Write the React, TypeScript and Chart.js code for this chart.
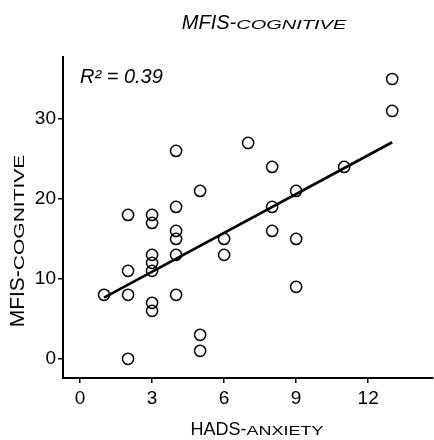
import React, { useEffect, useRef } from "react";
import { Chart, registerables } from "chart.js";

Chart.register(...registerables);

// HADS anxiety score (x) and MFIS cognitive score (y) for each participant
const anxietyScores = [
  1, 2, 2, 2, 2, 3, 3, 3, 3, 3, 3, 3, 4, 4, 4, 4, 4, 4, 5, 5, 5, 6, 6, 7, 8, 8, 8, 9, 9, 9, 11, 13, 13,
];
const cognitiveScores = [
  8, 18, 11, 8, 0, 18, 17, 13, 12, 11, 7, 6, 26, 19, 16, 15, 13, 8, 21, 3, 1, 15, 13, 27, 24, 19, 16, 21, 15, 9, 24, 35, 31,
];

// Fitted regression line end points
const fitX = [1, 13];
const fitY = [7.66, 27.09];
const rSquaredLabel = "R² = 0.39";

const xTicks = [0, 3, 6, 9, 12];
const yTicks = [0, 10, 20, 30];

const FONT = '"Liberation Sans", Arial, Helvetica, sans-serif';

type Part = { text: string; small?: boolean };

const titleParts: Part[] = [{ text: "MFIS-" }, { text: "COGNITIVE", small: true }];
const xTitleParts: Part[] = [{ text: "HADS-" }, { text: "ANXIETY", small: true }];
const yTitleParts: Part[] = [{ text: "MFIS-" }, { text: "COGNITIVE", small: true }];

// Draws text centred on (x, y) baseline; small-caps parts are squashed vertically
function drawCapsLabel(
  ctx: CanvasRenderingContext2D,
  parts: Part[],
  x: number,
  y: number,
  size: number,
  italic: boolean,
  k: number,
  angle: number
) {
  ctx.save();
  ctx.font = `${italic ? "italic " : ""}${size}px ${FONT}`;
  ctx.fillStyle = "#000";
  ctx.textBaseline = "alphabetic";
  ctx.textAlign = "left";
  ctx.translate(x, y);
  if (angle) ctx.rotate(angle);
  const widths = parts.map((p) => ctx.measureText(p.text).width);
  const total = widths.reduce((a, b) => a + b, 0);
  let cx = -total / 2;
  parts.forEach((p, i) => {
    ctx.save();
    ctx.translate(cx, 0);
    if (p.small) ctx.scale(1, k);
    ctx.fillText(p.text, 0, 0);
    ctx.restore();
    cx += widths[i];
  });
  ctx.restore();
}

const labelPlugin = {
  id: "labels",
  afterDraw(chart: Chart) {
    const ctx = chart.ctx;
    drawCapsLabel(ctx, titleParts, 264, 29, 20, true, 0.68, 0);
    drawCapsLabel(ctx, xTitleParts, 257, 435, 18, false, 0.75, 0);
    drawCapsLabel(ctx, yTitleParts, 24, 241, 21, false, 0.72, -Math.PI / 2);
    ctx.save();
    ctx.font = `italic 20px ${FONT}`;
    ctx.fillStyle = "#000";
    ctx.textAlign = "left";
    ctx.textBaseline = "alphabetic";
    ctx.fillText(rSquaredLabel, 80, 83);
    ctx.restore();
  },
};

export default function App() {
  const canvasRef = useRef<HTMLCanvasElement | null>(null);

  useEffect(() => {
    if (!canvasRef.current) return;
    const points = anxietyScores.map((x, i) => ({ x, y: cognitiveScores[i] }));
    const fit = fitX.map((x, i) => ({ x, y: fitY[i] }));

    const chart = new Chart(canvasRef.current, {
      type: "scatter",
      data: {
        datasets: [
          {
            type: "line",
            data: fit,
            borderColor: "#000",
            borderWidth: 2.7,
            pointRadius: 0,
            fill: false,
            order: 1,
          },
          {
            data: points,
            pointRadius: 5.6,
            pointBorderWidth: 1.5,
            pointBorderColor: "#000",
            pointBackgroundColor: "rgba(0,0,0,0)",
            order: 0,
          },
        ],
      },
      options: {
        responsive: false,
        animation: false,
        layout: { autoPadding: false, padding: { top: 57, right: 1, left: 0, bottom: 0 } },
        plugins: {
          legend: { display: false },
          tooltip: { enabled: false },
          title: { display: false },
        },
        scales: {
          x: {
            type: "linear",
            min: -0.71,
            max: 14.7,
            afterBuildTicks: (scale: any) => {
              scale.ticks = xTicks.map((v) => ({ value: v }));
            },
            afterFit: (scale: any) => {
              scale.height = 62;
              scale.paddingLeft = 0;
              scale.paddingRight = 0;
            },
            ticks: {
              color: "#000",
              font: { family: FONT, size: 19 },
              padding: 4,
              maxRotation: 0,
            },
            grid: {
              display: true,
              drawOnChartArea: false,
              drawTicks: true,
              tickLength: 5,
              color: "#000",
              lineWidth: 1.5,
            },
            border: { display: true, color: "#000", width: 2 },
          },
          y: {
            type: "linear",
            min: -2.4,
            max: 37.75,
            afterBuildTicks: (scale: any) => {
              scale.ticks = yTicks.map((v) => ({ value: v }));
            },
            afterFit: (scale: any) => {
              scale.width = 63;
              scale.paddingTop = 0;
              scale.paddingBottom = 0;
            },
            ticks: {
              color: "#000",
              font: { family: FONT, size: 19 },
              padding: 2,
            },
            grid: {
              display: true,
              drawOnChartArea: false,
              drawTicks: true,
              tickLength: 5,
              color: "#000",
              lineWidth: 1.5,
            },
            border: { display: true, color: "#000", width: 2 },
          },
        },
      },
      plugins: [labelPlugin],
    });

    return () => chart.destroy();
  }, []);

  return (
    <div style={{ position: "absolute", left: 0, top: 0, width: 434, height: 440, background: "#fff" }}>
      <canvas ref={canvasRef} width={434} height={440} style={{ display: "block" }} />
    </div>
  );
}
